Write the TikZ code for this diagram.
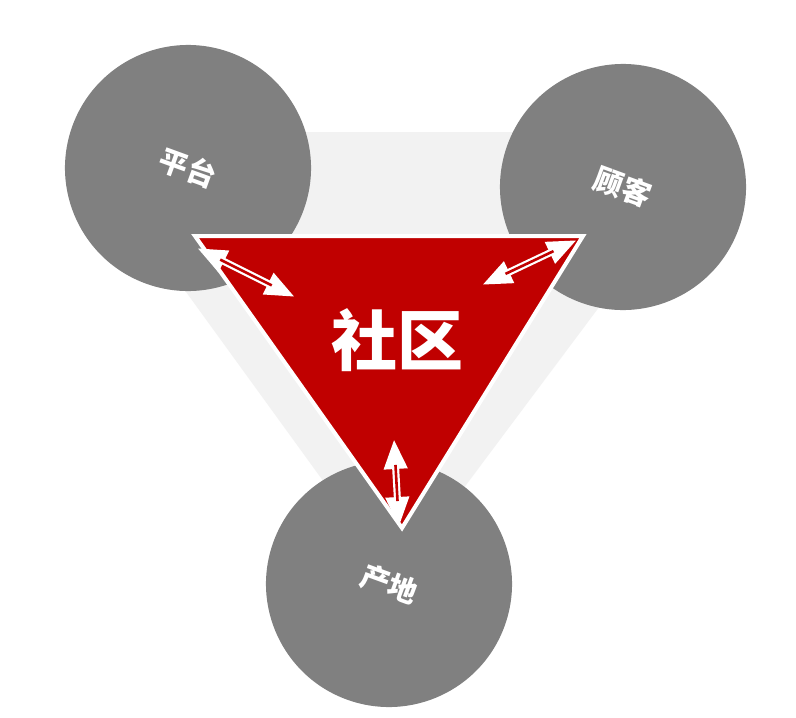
\documentclass[tikz,border=0pt]{standalone}
\usepackage{fontspec}
\newfontfamily\cjk{Noto Sans CJK SC}
\usetikzlibrary{arrows.meta}
\definecolor{disc}{HTML}{808080}
\definecolor{tri}{HTML}{C00000}
\definecolor{haze}{HTML}{F2F2F2}
\tikzset{
  bubble/.style={shape=circle, draw=none, fill=disc, minimum size=246pt, inner sep=0pt,
    text=white, font=\cjk\bfseries\fontsize{29}{29}\selectfont},
  flowout/.style={draw=white, line width=7pt, {Triangle[length=30pt 0 0,width=22pt 0 0]}-{Triangle[length=30pt 0 0,width=22pt 0 0]}},
  flowin/.style={draw=tri, line width=2.6pt, shorten <=26pt, shorten >=26pt}
}
\newcommand{\bubble}[4]{\node[bubble, rotate=-20] (#1) at ( #2 , #3 ) {#4};}

\begin{document}
\begin{tikzpicture}[x=1pt,y=-1pt]
\useasboundingbox[fill=white] (0,0) rectangle (796,718);
% faint backdrop
\fill[haze] (70,132) -- (730,132) -- (395,580) -- cycle;
% the three circles
\bubble{plat}{188}{168}{平台}
\bubble{cust}{623}{187}{顾客}
\bubble{orig}{389}{584}{产地}
% triangle corners
\coordinate (tl) at (195,236);
\coordinate (tr) at (583,236);
\coordinate (bt) at (402,528);
\draw[white, line width=4pt, line join=miter, fill=tri] (tl) -- (tr) -- (bt) -- cycle;
% arrow ends
\coordinate (a1) at (197,248);
\coordinate (b1) at (295,297);
\coordinate (a2) at (577,240);
\coordinate (b2) at (482,285);
\coordinate (a3) at (399,527);
\coordinate (b3) at (394,439);
% arrows
\draw[flowout] (a1) -- (b1);
\draw[flowin] (a1) -- (b1);
\draw[flowout] (a2) -- (b2);
\draw[flowin] (a2) -- (b2);
\draw[flowout] (a3) -- (b3);
\draw[flowin] (a3) -- (b3);
% centre label
\node[text=white, font=\cjk\bfseries\fontsize{66}{66}\selectfont] (comm) at (397,340) {社区};
\end{tikzpicture}
\end{document}
